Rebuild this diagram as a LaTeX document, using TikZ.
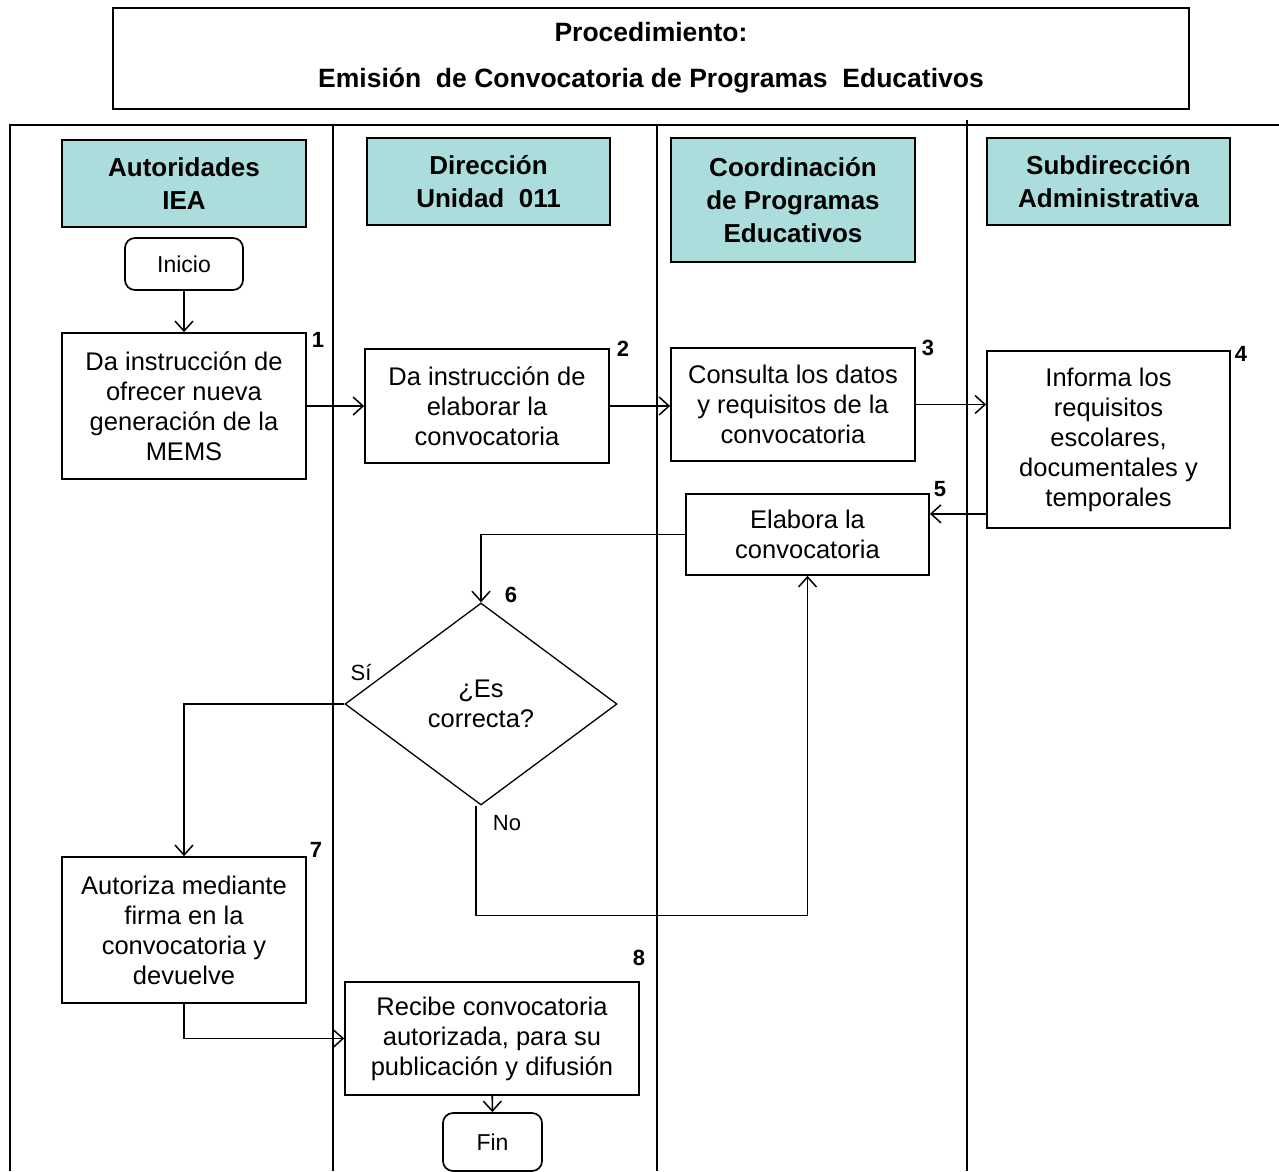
\documentclass[tikz,border=0pt]{standalone}
\usepackage{fontspec}
\setmainfont{Liberation Sans}
\usetikzlibrary{arrows.meta,shapes.geometric}
\definecolor{lanehead}{RGB}{170,221,220}
\begin{document}
\begin{tikzpicture}[x=1pt,y=-1pt,line width=1.7pt,
	flow/.style={line width=1.6pt,-{Straight Barb[length=10pt,width=18pt,line width=1.5pt]}},
	hdr/.style={draw,fill=lanehead,align=center,font=\fontsize{26}{33}\selectfont\bfseries,minimum width=244pt,minimum height=87pt,inner sep=0pt},
	act/.style={draw,align=center,font=\fontsize{25.5}{30}\selectfont,minimum width=244pt,inner sep=0pt},
	term/.style={draw,rounded corners=10pt,font=\fontsize{23}{28}\selectfont,inner sep=0pt},
	num/.style={font=\fontsize{22}{26}\selectfont\bfseries,inner sep=0pt},
	lbl/.style={font=\fontsize{22}{26}\selectfont,inner sep=0pt}]
	\useasboundingbox (0,0) rectangle (1279,1171);
	% title
	\node[draw,minimum width=1076pt,minimum height=101pt,inner sep=0pt] (title) at (651,58.5) {};
	\node[font=\fontsize{26.5}{30}\selectfont\bfseries] (t1) at (651,32) {Procedimiento:};
	\node[font=\fontsize{26.5}{30}\selectfont\bfseries] (t2) at (651,81) {Emisión\ \ de Convocatoria de Programas\ \ Educativos};
	% lanes
	\draw (10,1171)--(10,125)--(1279,125);
	\foreach \x/\y in {333/125,657/125,967/120}\draw (\x,\y)--(\x,1171);
	\node[hdr] (h1) at (184,183.5) {Autoridades\\IEA};
	\node[hdr,minimum width=243pt] (h2) at (488.5,181.5) {Dirección\\Unidad\ \ 011};
	\node[hdr,minimum height=124pt] (h3) at (793,200) {Coordinación\\de Programas\\Educativos};
	\node[hdr,minimum width=243pt] (h4) at (1108.5,181.5) {Subdirección\\Administrativa};
	% activities
	\node[term,minimum width=118pt,minimum height=52pt] (ini) at (184,264) {Inicio};
	\node[act,minimum height=146pt] (b1) at (184,406) {Da instrucción de\\ofrecer nueva\\generación de la\\MEMS};
	\node[act,minimum height=114pt] (b2) at (487,406) {Da instrucción de\\elaborar la\\convocatoria};
	\node[act,minimum height=113pt] (b3) at (793,404.5) {Consulta los datos\\y requisitos de la\\convocatoria};
	\node[act,minimum width=243pt,minimum height=177pt] (b4) at (1108.5,439.5) {Informa los\\requisitos\\escolares,\\documentales y\\temporales};
	\node[act,minimum width=243pt,minimum height=81pt] (b5) at (807.5,534.5) {Elabora la\\convocatoria};
	\node[diamond,draw,line width=1.3pt,align=center,font=\fontsize{25.5}{30}\selectfont,minimum width=272pt,minimum height=202pt,inner sep=0pt] (d6) at (481,704) {¿Es\\correcta?};
	\node[act,minimum height=146pt] (b7) at (184,930) {Autoriza mediante\\firma en la\\convocatoria y\\devuelve};
	\node[act,minimum width=294pt,minimum height=113pt] (b8) at (492,1038.5) {Recibe convocatoria\\autorizada, para su\\publicación y difusión};
	\node[term,minimum width=99pt,minimum height=58pt] (fin) at (492.5,1142) {Fin};
	% step numbers
	\node[num] (n1) at (318,340) {1};
	\node[num] (n2) at (623,349) {2};
	\node[num] (n3) at (928,348) {3};
	\node[num] (n4) at (1241,354) {4};
	\node[num] (n5) at (940,489) {5};
	\node[num] (n6) at (511,595) {6};
	\node[num] (n7) at (316,850) {7};
	\node[num] (n8) at (639,958) {8};
	\node[lbl] (si) at (361,672) {Sí};
	\node[lbl] (no) at (507,823) {No};
	% connectors
	\draw[flow] (ini)--(b1);
	\draw[flow] (b1)--(b2);
	\draw[flow] (b2.east)--(b2.east-|b3.west);
	\draw[flow] (b3.east)--(b3.east-|b4.west);
	\draw[flow] ([yshift=15pt]b4.south west) coordinate (c4)--(c4-|b5.east);
	\draw[flow] (b5.west)-|(d6.north);
	\draw[flow] (d6.west)-|(b7.north);
	\draw[flow] ([xshift=-5pt]d6.south)--++(0,110)-|(b5.south);
	\draw[flow] (b7.south)|-(b8.west);
	\draw[flow] (b8)--(fin);
\end{tikzpicture}
\end{document}
